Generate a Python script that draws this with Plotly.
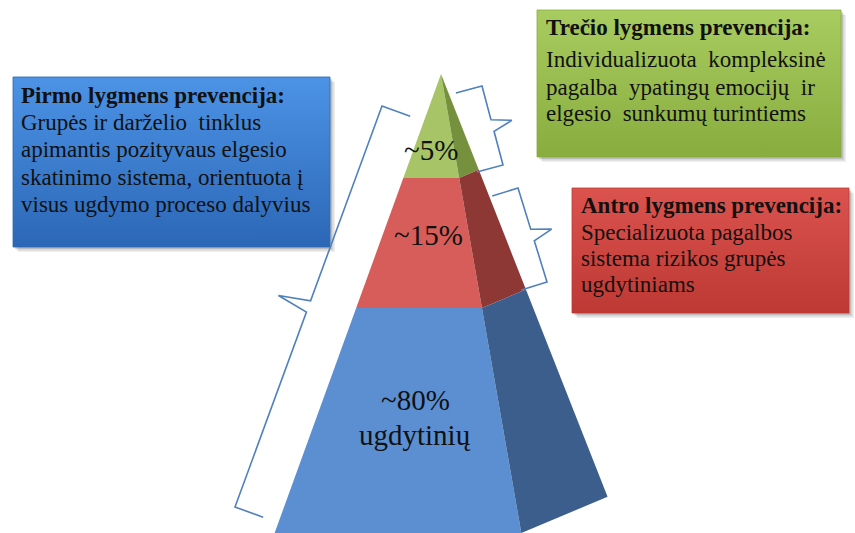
import plotly.graph_objects as go

# ---------------- data ----------------
tier_labels = ["~5%", "~15%", "~80%<br>ugdytinių"]
tier_shares = [5, 15, 80]          # share of pupils per prevention level
box_titles = ["Pirmo lygmens prevencija:",
              "Antro lygmens prevencija:",
              "Trečio lygmens prevencija:"]
box_bodies = [
    ["Grupės ir darželio  tinklus",
     "apimantis pozityvaus elgesio",
     "skatinimo sistema, orientuota į",
     "visus ugdymo proceso dalyvius"],
    ["Specializuota pagalbos",
     "sistema rizikos grupės",
     "ugdytiniams"],
    ["Individualizuota  kompleksinė",
     "pagalba  ypatingų emocijų  ir",
     "elgesio  sunkumų turintiems"],
]

# ---------------- geometry / style ----------------
W, H = 855, 533
AX, AY = 441, 74            # apex
PH = 459                    # pyramid height
tier_bottoms = [0.2266, 0.5098, 1.0]   # fraction of height at bottom of each tier
label_depth = [0.166, 0.351, 0.710]
label_dx = [-3, 3, 5]
LABEL_SZ, LABEL_GAP = 29, 35
LEFT_S, FRONT_S, BACK_S, TILT = 0.3625, 0.175, 0.394, 0.42

front_cols = ["#A7C566", "#D65D59", "#5B8FD1"]
side_cols = ["#76913D", "#8D3835", "#3B5E8C"]

box_rects = [(13, 77, 330, 247), (572, 188, 849, 313), (537, 10, 841, 157)]
box_grad = [("#4C93E6", "#2C67B6"), ("#DC534E", "#BD3934"), ("#A9CC60", "#88AC3E")]
text_left = [19, 579, 544]
text_baselines = [[103.3, 130.7, 157.7, 185, 212.3],
                  [213.3, 240, 266.7, 292.3],
                  [35.7, 67.5, 95.0, 121.7]]
BOX_SZ = 23
ASC_SHIFT = 0.3375          # baseline offset from text-box middle (Liberation Serif)

brace_spines = [((382, 106), (235, 507), 1, 30, 32),
                ((482, 86), (503, 165), -1, 27, 20),
                ((518, 188), (547, 282), -1, 27, 20)]

SERIF = "Liberation Serif"


def fl(d):
    return (AX - LEFT_S * d, AY + d)


def fr(d):
    return (AX + FRONT_S * d, AY + d)


def br(d):
    e = d * (1 + FRONT_S * TILT) / (1 + BACK_S * TILT)
    return (AX + BACK_S * e, AY + e)


fig = go.Figure()


def poly(pts, color, **kw):
    xs = [p[0] for p in pts] + [pts[0][0]]
    ys = [p[1] for p in pts] + [pts[0][1]]
    fig.add_trace(go.Scatter(x=xs, y=ys, mode="lines", fill="toself",
                             fillcolor=color, line=dict(width=0, color=color),
                             hoverinfo="skip", showlegend=False, **kw))


# boxes with shadow and gradient
for (x0, y0, x1, y1), (c0, c1) in zip(box_rects, box_grad):
    for k, a in ((5, 0.09), (3.5, 0.13), (2, 0.17)):
        poly([(x0 + k, y0 + k), (x1 + k, y0 + k), (x1 + k, y1 + k), (x0 + k, y1 + k)],
             "rgba(60,60,60,%.2f)" % a)
    xs = [x0, x1, x1, x0, x0]
    ys = [y0, y0, y1, y1, y0]
    fig.add_trace(go.Scatter(x=xs, y=ys, mode="lines", fill="toself",
                             line=dict(width=0.8, color=c1),
                             fillgradient=dict(type="vertical",
                                               colorscale=[[0, c0], [1, c1]],
                                               start=y0, stop=y1),
                             hoverinfo="skip", showlegend=False))

# pyramid
prev = 0.0
for i, b in enumerate(tier_bottoms):
    d0, d1 = prev * PH, b * PH
    poly([fl(d0), fr(d0), fr(d1), fl(d1)], front_cols[i])
    poly([fr(d0), br(d0), br(d1), fr(d1)], side_cols[i])
    prev = b

# braces
for (c1, c2, side, arm, tip) in brace_spines:
    dx, dy = c2[0] - c1[0], c2[1] - c1[1]
    L = (dx * dx + dy * dy) ** 0.5
    ux, uy = dx / L, dy / L
    nx, ny = side * uy, -side * ux      # toward the pyramid
    mx, my = (c1[0] + c2[0]) / 2, (c1[1] + c2[1]) / 2
    pinch = 6
    pts = [(c1[0] + nx * arm, c1[1] + ny * arm), c1,
           (mx - ux * pinch, my - uy * pinch),
           (mx - nx * tip, my - ny * tip),
           (mx + ux * pinch, my + uy * pinch), c2,
           (c2[0] + nx * arm, c2[1] + ny * arm)]
    fig.add_trace(go.Scatter(x=[p[0] for p in pts], y=[p[1] for p in pts],
                             mode="lines", line=dict(color="#4F81BD", width=1.6),
                             hoverinfo="skip", showlegend=False))

# tier labels
for i, lab in enumerate(tier_labels):
    d = label_depth[i] * PH
    x = (fl(d)[0] + fr(d)[0]) / 2 + label_dx[i]
    for j, part in enumerate(lab.split("<br>")):
        fig.add_annotation(x=x, y=AY + d + j * LABEL_GAP, text=part, showarrow=False,
                           font=dict(family=SERIF, size=LABEL_SZ, color="#111"),
                           xanchor="center", yanchor="middle")

# box texts
for i in range(3):
    lines = ["<b>%s</b>" % box_titles[i]] + box_bodies[i]
    for j, t in enumerate(lines):
        fig.add_annotation(x=text_left[i], y=text_baselines[i][j] - ASC_SHIFT * BOX_SZ,
                           text=t, showarrow=False, xanchor="left", yanchor="middle",
                           font=dict(family=SERIF, size=BOX_SZ, color="#111"))

fig.update_layout(width=W, height=H, margin=dict(l=0, r=0, t=0, b=0),
                  paper_bgcolor="white", plot_bgcolor="white",
                  font=dict(family=SERIF),
                  xaxis=dict(range=[0, W], visible=False, fixedrange=True),
                  yaxis=dict(range=[H, 0], visible=False, fixedrange=True),
                  showlegend=False)
fig.write_html("out.html", config={"displayModeBar": False, "staticPlot": True},
               post_script="document.body.style.margin='0px';")
